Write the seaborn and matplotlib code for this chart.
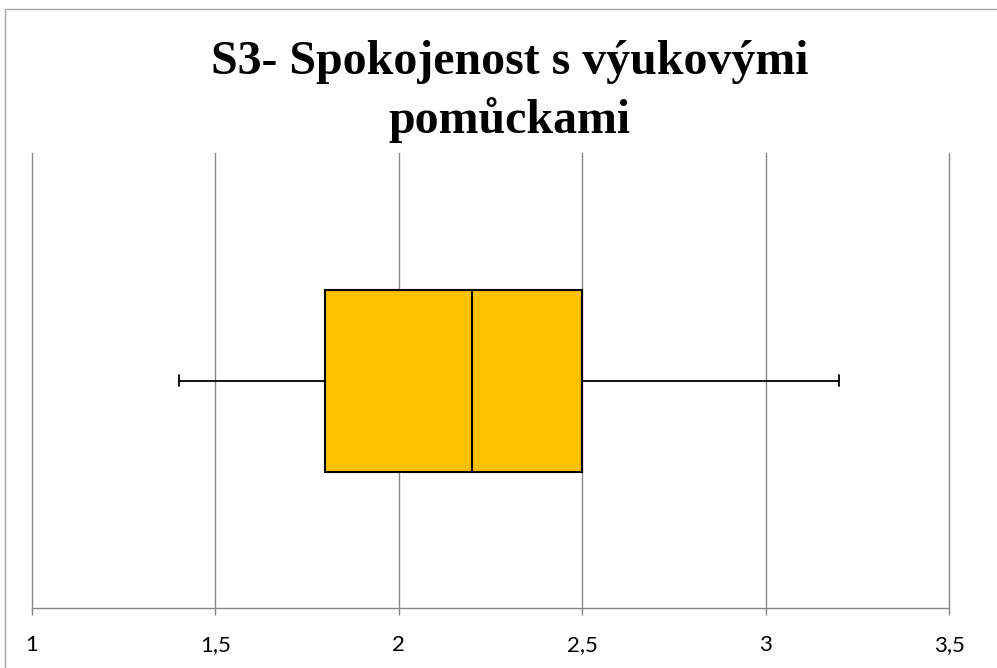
import matplotlib
matplotlib.use("Agg")
import matplotlib.pyplot as plt
import seaborn as sns
import pandas as pd
from matplotlib.patches import Rectangle

# Five-number summary (min, Q1, median, Q3, max)
scores = [1.4, 1.8, 2.2, 2.5, 3.2]
group = ["S3"] * len(scores)
tick_values = [1, 1.5, 2, 2.5, 3, 3.5]
tick_labels = ["1", "1,5", "2", "2,5", "3", "3,5"]
title_text = "S3- Spokojenost s výukovými\npomůckami"

df = pd.DataFrame({"group": group, "score": scores})

sns.set_style("white")
plt.rcParams["font.family"] = ["Lato", "DejaVu Sans"]

fig = plt.figure(figsize=(9.97, 6.68), dpi=100)
ax = fig.add_axes([32 / 997, 1 - 608 / 668, (949 - 32) / 997, (608 - 153) / 668])

sns.boxplot(
    data=df, x="score", y="group", ax=ax, width=0.4, whis=1.5,
    color="#FFC000", saturation=1, showfliers=False,
    boxprops=dict(edgecolor="black", linewidth=1.5),
    medianprops=dict(color="black", linewidth=1.5),
    whiskerprops=dict(color="black", linewidth=1.3),
    capprops=dict(color="black", linewidth=1.3),
)

# short caps like the original
for ln in ax.lines:
    xd = list(ln.get_xdata())
    if len(xd) == 2 and xd[0] == xd[1] and xd[0] in (min(scores), max(scores)):
        ln.set_ydata([-0.013, 0.013])

ax.set_xlim(1, 3.5)
ax.set_ylim(0.5, -0.5)
ax.set_xticks(tick_values)
ax.set_xticklabels(tick_labels, fontsize=16)
ax.set_yticks([])
ax.set_xlabel("")
ax.set_ylabel("")
ax.grid(axis="x", color="#868686", linewidth=1)
ax.set_axisbelow(True)
for gl in ax.get_xgridlines():
    gl.set_clip_on(False)
for side in ["top", "right", "left"]:
    ax.spines[side].set_visible(False)
ax.spines["bottom"].set_color("#868686")
ax.spines["bottom"].set_linewidth(1)
ax.tick_params(axis="x", direction="out", length=5, width=1, color="#868686",
               pad=26, labelcolor="black", bottom=True)
for lbl in ax.get_xticklabels():
    lbl.set_verticalalignment("baseline")

fig.text(0.511, 1 - 133 / 668, title_text, ha="center", va="baseline",
         fontsize=34.5, fontweight="bold", family="Liberation Serif",
         color="black", linespacing=1.36)

# outer chart border (cropped at right and bottom)
fig.patches.append(Rectangle((5 / 997, -0.1), 1.2, 1 - 9 / 668 + 0.1,
                             transform=fig.transFigure, fill=False,
                             edgecolor="#a6a6a6", linewidth=1))

fig.savefig("out.png", dpi=100)
